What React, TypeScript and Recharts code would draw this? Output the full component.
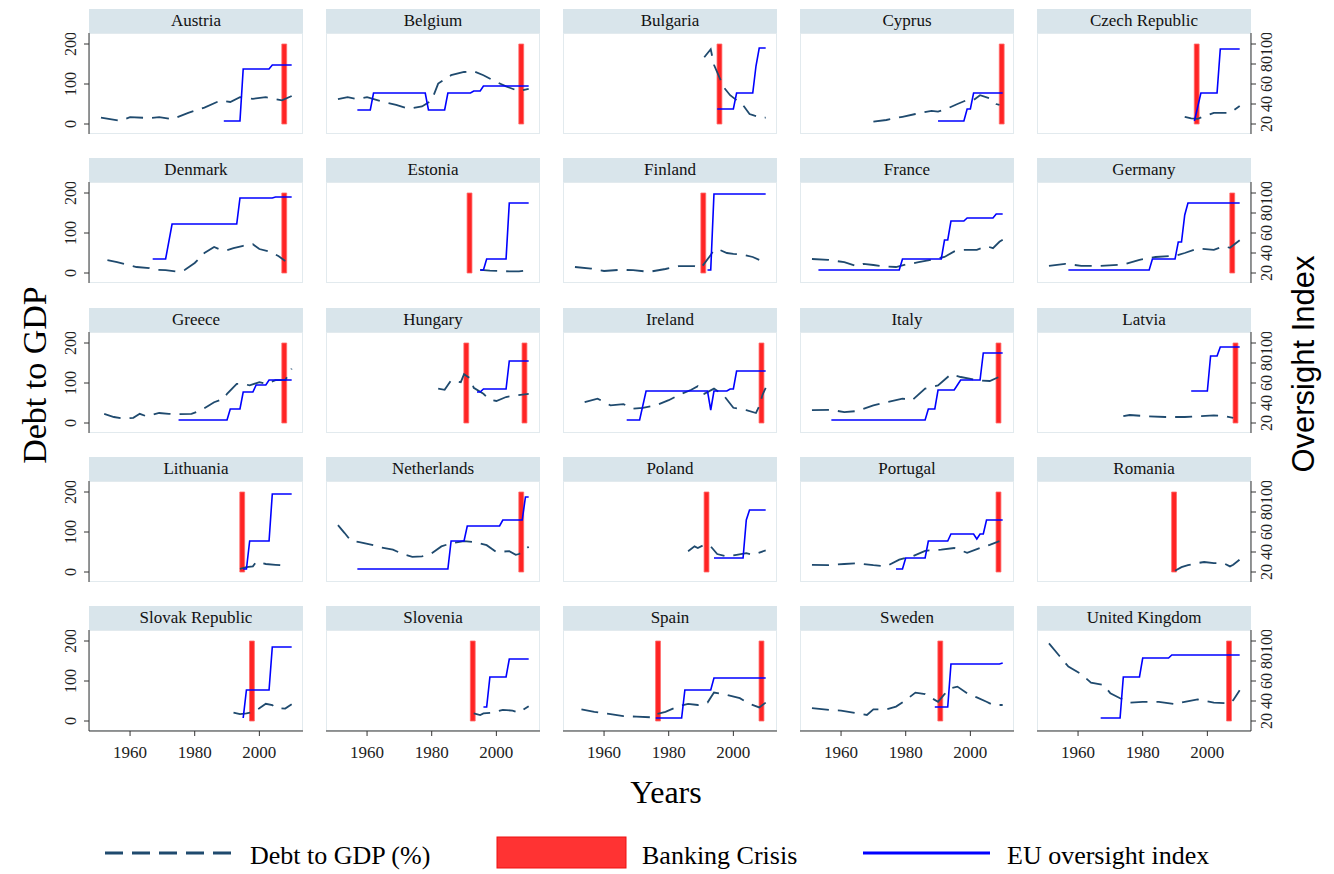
import React from 'react';
import { ComposedChart, Line, XAxis, YAxis, ReferenceArea } from 'recharts';

// ---------- data: [year, value] ----------
const austriaDebt = [[1951,16],[1957,8],[1960,17],[1966,15],[1969,17],[1973,12],[1978,28],[1983,41],[1988,59],[1991,55],[1994,67],[1998,63],[2002,67],[2007,59],[2010,70]];
const austriaOversight = [[1989,23],[1994,23],[1995,75],[2003,75],[2004,79],[2010,79]];
const austriaCrises = [2008];

const belgiumDebt = [[1951,62],[1954,67],[1957,62],[1960,67],[1965,55],[1969,48],[1973,38],[1977,44],[1980,59],[1982,101],[1986,122],[1990,130],[1993,132],[1996,122],[1999,109],[2003,94],[2007,82],[2010,88]];
const belgiumOversight = [[1957,34],[1961,34],[1962,51],[1978,51],[1979,34],[1984,34],[1985,51],[1992,51],[1993,53],[1995,53],[1996,58],[2010,58]];
const belgiumCrises = [2008];

const bulgariaDebt = [[1991,167],[1993,187],[1994,148],[1997,92],[1999,72],[2003,47],[2005,25],[2009,15],[2010,16]];
const bulgariaOversight = [[1995,35],[2000,35],[2001,51],[2006,51],[2007,78],[2008,96],[2010,96]];
const bulgariaCrises = [1996];

const cyprusDebt = [[1970,6],[1974,10],[1979,18],[1983,25],[1988,33],[1990,31],[1993,39],[1996,50],[1999,60],[2001,60],[2003,72],[2006,64],[2008,50],[2009,48]];
const cyprusOversight = [[1990,23],[1998,23],[1999,35],[2000,35],[2001,51],[2010,51]];
const cyprusCrises = [2010];

const czechDebt = [[1993,18],[1995,14],[1997,13],[2002,28],[2007,28],[2010,45]];
const czechOversight = [[1996,23],[1998,51],[2003,51],[2004,95],[2010,95]];
const czechCrises = [1997];

const denmarkDebt = [[1953,32],[1956,27],[1959,21],[1962,15],[1966,12],[1968,8],[1971,7],[1975,3],[1977,8],[1980,25],[1983,50],[1986,65],[1988,58],[1990,57],[1992,62],[1995,68],[1998,72],[2000,60],[2003,54],[2006,42],[2008,30]];
const denmarkOversight = [[1967,34],[1971,34],[1973,69],[1993,69],[1994,95],[2004,95],[2005,96],[2010,96]];
const denmarkCrises = [2008];

const estoniaDebt = [[1995,8],[1998,6],[2001,5],[2004,4],[2007,4],[2010,7]];
const estoniaOversight = [[1995,23],[1996,23],[1997,34],[2003,34],[2004,90],[2010,90]];
const estoniaCrises = [1992];

const finlandDebt = [[1951,15],[1956,11],[1960,5],[1965,8],[1969,7],[1974,3],[1979,10],[1983,17],[1988,17],[1990,13],[1993,45],[1994,58],[1996,57],[1998,50],[2000,48],[2003,46],[2006,40],[2008,33]];
const finlandOversight = [[1992,23],[1993,23],[1994,99],[2010,99]];
const finlandCrises = [1991];

const franceDebt = [[1951,35],[1956,33],[1961,27],[1965,17],[1967,23],[1970,20],[1973,17],[1977,15],[1980,21],[1984,27],[1989,35],[1992,40],[1995,54],[1998,58],[2002,58],[2005,67],[2007,62],[2009,78],[2010,83]];
const franceOversight = [[1953,23],[1978,23],[1979,34],[1991,34],[1992,53],[1993,53],[1994,72],[1998,72],[1999,75],[2007,75],[2008,79],[2010,79]];
const franceCrises: number[] = [];

const germanyDebt = [[1951,18],[1956,23],[1961,18],[1967,18],[1974,21],[1979,33],[1984,40],[1990,43],[1993,50],[1997,61],[2002,58],[2005,67],[2007,63],[2010,82]];
const germanyOversight = [[1957,23],[1982,23],[1983,34],[1990,34],[1991,51],[1992,51],[1993,78],[1994,90],[2010,90]];
const germanyCrises = [2008];

const greeceDebt = [[1952,23],[1955,15],[1958,11],[1961,13],[1963,23],[1965,17],[1966,19],[1969,25],[1972,23],[1975,22],[1979,23],[1982,32],[1984,42],[1986,52],[1989,61],[1990,73],[1993,98],[1995,98],[1997,94],[2000,102],[2002,98],[2005,107],[2008,107],[2010,136]];
const greeceOversight = [[1975,23],[1990,23],[1991,34],[1994,34],[1995,51],[1998,51],[1999,58],[2002,58],[2003,63],[2010,63]];
const greeceCrises = [2008];

const hungaryDebt = [[1982,86],[1984,83],[1986,107],[1989,102],[1990,122],[1992,111],[1993,88],[1996,73],[1998,58],[2000,55],[2003,65],[2006,69],[2010,73]];
const hungaryOversight = [[1994,51],[1995,51],[1996,54],[2003,54],[2004,82],[2010,82]];
const hungaryCrises = [1991, 2009];

const irelandDebt = [[1954,52],[1958,61],[1962,44],[1966,47],[1969,36],[1972,38],[1976,44],[1980,57],[1984,73],[1987,83],[1989,92],[1991,73],[1994,86],[1997,69],[2000,38],[2004,32],[2007,25],[2008,42],[2009,70],[2010,88]];
const irelandOversight = [[1967,23],[1971,23],[1973,52],[1992,52],[1993,33],[1994,52],[1998,52],[1999,54],[2000,54],[2001,72],[2010,72]];
const irelandCrises = [2009];

const italyDebt = [[1951,32],[1957,33],[1961,27],[1965,30],[1970,44],[1974,52],[1979,61],[1982,57],[1986,86],[1990,94],[1994,122],[1997,115],[2002,107],[2006,105],[2010,119]];
const italyOversight = [[1957,23],[1986,23],[1987,34],[1989,34],[1990,53],[1995,53],[1996,58],[1997,63],[2003,63],[2004,90],[2010,90]];
const italyCrises = [2009];

const latviaDebt = [[1974,17],[1976,20],[1981,17],[1987,15],[1993,15],[1997,17],[2002,19],[2005,18],[2008,13]];
const latviaOversight = [[1995,52],[2000,52],[2001,87],[2003,87],[2004,96],[2010,96]];
const latviaCrises = [2009];

const lithuaniaDebt = [[1994,8],[1996,12],[1998,14],[1999,25],[2002,20],[2005,18],[2008,16],[2009,20]];
const lithuaniaOversight = [[1995,23],[1996,23],[1997,51],[2003,51],[2004,98],[2010,98]];
const lithuaniaCrises = [1995];

const netherlandsDebt = [[1951,117],[1953,98],[1955,78],[1958,74],[1962,67],[1964,62],[1968,56],[1971,45],[1974,38],[1977,39],[1980,47],[1983,64],[1986,72],[1990,77],[1993,75],[1997,67],[2000,50],[2004,52],[2006,43],[2007,45],[2010,63]];
const netherlandsOversight = [[1957,23],[1985,23],[1986,51],[1990,51],[1991,66],[2001,66],[2002,72],[2008,72],[2009,95],[2010,95]];
const netherlandsCrises = [2008];

const polandDebt = [[1986,52],[1988,64],[1989,60],[1991,68],[1993,64],[1995,45],[1998,39],[2001,43],[2004,47],[2006,43],[2010,54]];
const polandOversight = [[1994,34],[2003,34],[2004,72],[2005,82],[2010,82]];
const polandCrises = [1992];

const portugalDebt = [[1951,18],[1956,17],[1961,20],[1965,22],[1970,17],[1974,14],[1978,31],[1982,39],[1986,53],[1991,56],[1995,60],[1999,48],[2003,60],[2006,68],[2009,77]];
const portugalOversight = [[1977,23],[1979,23],[1980,34],[1986,34],[1987,51],[1993,51],[1994,58],[2001,58],[2002,53],[2003,58],[2004,58],[2005,72],[2010,72]];
const portugalCrises = [2009];

const romaniaDebt = [[1990,3],[1992,12],[1994,17],[1996,21],[1999,25],[2002,22],[2005,22],[2007,14],[2008,18],[2010,31]];
const romaniaOversight: number[][] = [];
const romaniaCrises = [1990];

const slovakDebt = [[1992,21],[1994,17],[1996,19],[1998,22],[2000,32],[2002,43],[2004,40],[2005,33],[2008,31],[2010,42]];
const slovakOversight = [[1995,23],[1996,51],[2003,51],[2004,94],[2010,94]];
const slovakCrises = [1998];

const sloveniaDebt = [[1993,19],[1995,15],[1996,19],[1999,21],[2002,28],[2005,26],[2007,21],[2010,37]];
const sloveniaOversight = [[1996,34],[1997,34],[1998,64],[2003,64],[2004,82],[2010,82]];
const sloveniaCrises = [1993];

const spainDebt = [[1953,29],[1957,23],[1962,17],[1966,12],[1970,11],[1975,9],[1976,17],[1979,23],[1983,37],[1986,43],[1989,40],[1992,46],[1994,71],[1997,67],[2002,57],[2005,43],[2008,34],[2010,46]];
const spainOversight = [[1976,23],[1984,23],[1985,51],[1993,51],[1994,63],[2010,63]];
const spainCrises = [1977, 2009];

const swedenDebt = [[1951,32],[1957,27],[1960,26],[1965,19],[1968,15],[1970,29],[1974,29],[1977,36],[1980,52],[1983,71],[1986,67],[1990,48],[1992,67],[1994,82],[1996,86],[1999,69],[2002,59],[2005,48],[2007,40],[2010,40]];
const swedenOversight = [[1989,34],[1993,34],[1994,77],[2009,77],[2010,78]];
const swedenCrises = [1991];

const ukDebt = [[1951,194],[1954,165],[1957,136],[1961,117],[1964,96],[1968,90],[1970,69],[1973,57],[1976,46],[1980,48],[1985,48],[1990,42],[1993,48],[1997,54],[2002,46],[2007,44],[2008,52],[2010,77]];
const ukOversight = [[1967,23],[1973,23],[1974,64],[1979,64],[1980,83],[1988,83],[1989,86],[2010,86]];
const ukCrises = [2007];

const countryNames = ['Austria','Belgium','Bulgaria','Cyprus','Czech Republic','Denmark','Estonia','Finland','France','Germany','Greece','Hungary','Ireland','Italy','Latvia','Lithuania','Netherlands','Poland','Portugal','Romania','Slovak Republic','Slovenia','Spain','Sweden','United Kingdom'];
const debtSeries = [austriaDebt,belgiumDebt,bulgariaDebt,cyprusDebt,czechDebt,denmarkDebt,estoniaDebt,finlandDebt,franceDebt,germanyDebt,greeceDebt,hungaryDebt,irelandDebt,italyDebt,latviaDebt,lithuaniaDebt,netherlandsDebt,polandDebt,portugalDebt,romaniaDebt,slovakDebt,sloveniaDebt,spainDebt,swedenDebt,ukDebt];
const oversightSeries = [austriaOversight,belgiumOversight,bulgariaOversight,cyprusOversight,czechOversight,denmarkOversight,estoniaOversight,finlandOversight,franceOversight,germanyOversight,greeceOversight,hungaryOversight,irelandOversight,italyOversight,latviaOversight,lithuaniaOversight,netherlandsOversight,polandOversight,portugalOversight,romaniaOversight,slovakOversight,sloveniaOversight,spainOversight,swedenOversight,ukOversight];
const crisisYears = [austriaCrises,belgiumCrises,bulgariaCrises,cyprusCrises,czechCrises,denmarkCrises,estoniaCrises,finlandCrises,franceCrises,germanyCrises,greeceCrises,hungaryCrises,irelandCrises,italyCrises,latviaCrises,lithuaniaCrises,netherlandsCrises,polandCrises,portugalCrises,romaniaCrises,slovakCrises,sloveniaCrises,spainCrises,swedenCrises,ukCrises];

const xTicks = [1960, 1980, 2000];
const debtTicks = [0, 100, 200];
const oversightTicks = [20, 40, 60, 80, 100];

// ---------- layout / style ----------
const SERIF = '"Liberation Serif", "Times New Roman", Times, serif';
const SANS = '"Liberation Sans", Arial, Helvetica, sans-serif';
const COL_X = [89, 326, 563, 800, 1037];
const ROW_Y = [33, 182, 332, 481, 630];
const PW = 214;
const PH = 101;
const HEAD_H = 24;
const LW = 40;
const RW = 40;
const BH = 40;
const DEBT_COLOR = '#1f4a6e';
const OV_COLOR = '#0000ff';
const AXIS_COLOR = '#333333';

const toPts = (a: number[][]) => a.map(([year, v]) => ({ year, v }));

function Panel({ idx }: { idx: number }) {
  const r = Math.floor(idx / 5);
  const c = idx % 5;
  const isLeft = c === 0;
  const isRight = c === 4;
  const isBottom = r === 4;
  const px = COL_X[c];
  const py = ROW_Y[r];
  const w = PW + (isLeft ? LW : 0) + (isRight ? RW : 0);
  const h = PH + (isBottom ? BH : 0);
  const offX = isLeft ? LW : 0;
  const debt = toPts(debtSeries[idx]);
  const ov = toPts(oversightSeries[idx]);

  const LeftTick = (p: any) => {
    const cx = offX - 19;
    return (
      <text x={cx} y={p.y} transform={`rotate(-90 ${cx} ${p.y})`} textAnchor="middle" dominantBaseline="central" fontSize={16} fill="#222" fontFamily={SERIF}>{p.payload.value}</text>
    );
  };
  const RightTick = (p: any) => {
    const cx = offX + PW + 15;
    return (
      <text x={cx} y={p.y} transform={`rotate(-90 ${cx} ${p.y})`} textAnchor="middle" dominantBaseline="central" fontSize={16} fill="#222" fontFamily={SERIF}>{p.payload.value}</text>
    );
  };
  const BottomTick = (p: any) => (
    <text x={p.x} y={PH + 21} textAnchor="middle" dominantBaseline="central" fontSize={17} fill="#222" fontFamily={SERIF}>{p.payload.value}</text>
  );

  return (
    <>
      <div style={{ position: 'absolute', left: px, top: py - HEAD_H, width: PW, height: HEAD_H, background: '#d9e5eb', fontFamily: SERIF, fontSize: 17, lineHeight: `${HEAD_H}px`, textAlign: 'center', color: '#111' }}>
        {countryNames[idx]}
      </div>
      <div style={{ position: 'absolute', left: px, top: py, width: PW, height: PH, border: '1px solid #e2eaee', boxSizing: 'border-box' }} />
      <div style={{ position: 'absolute', left: px - offX, top: py }}>
        <ComposedChart width={w} height={h} margin={{ top: 0, right: 0, bottom: 0, left: 0 }}>
          <XAxis xAxisId={0} type="number" dataKey="year" domain={[1947.3, 2013.5]} ticks={xTicks} interval={0} allowDataOverflow hide={!isBottom} height={BH} tick={BottomTick} tickSize={5} axisLine={{ stroke: AXIS_COLOR }} tickLine={{ stroke: AXIS_COLOR }} />
          <YAxis yAxisId="d" type="number" domain={[-25, 227.5]} ticks={debtTicks} interval={0} allowDataOverflow hide={!isLeft} width={LW} tick={LeftTick} tickSize={5} axisLine={{ stroke: AXIS_COLOR }} tickLine={{ stroke: AXIS_COLOR }} />
          <YAxis yAxisId="o" type="number" orientation="right" domain={[10, 111]} ticks={oversightTicks} interval={0} allowDataOverflow hide={!isRight} width={RW} tick={RightTick} tickSize={5} axisLine={{ stroke: AXIS_COLOR }} tickLine={{ stroke: AXIS_COLOR }} />
          {crisisYears[idx].map((yr) => (
            <ReferenceArea key={yr} xAxisId={0} yAxisId="d" x1={yr - 1.05} x2={yr + 0.45} y1={0} y2={200} fill="#ff2424" fillOpacity={1} stroke="#ff6b6b" strokeWidth={0.8} ifOverflow="visible" />
          ))}
          <Line xAxisId={0} yAxisId="d" data={debt} dataKey="v" type="linear" stroke={DEBT_COLOR} strokeWidth={1.8} strokeDasharray="17 9" dot={false} activeDot={false} isAnimationActive={false} />
          {ov.length > 0 && (
            <Line xAxisId={0} yAxisId="o" data={ov} dataKey="v" type="linear" stroke={OV_COLOR} strokeWidth={1.6} dot={false} activeDot={false} isAnimationActive={false} />
          )}
        </ComposedChart>
      </div>
    </>
  );
}

export default function App() {
  return (
    <div style={{ position: 'absolute', left: 0, top: 0, width: 1334, height: 874, background: '#ffffff', overflow: 'hidden' }}>
      {countryNames.map((_, i) => <Panel key={i} idx={i} />)}
      <svg width={1334} height={874} style={{ position: 'absolute', left: 0, top: 0, pointerEvents: 'none' }}>
        <text x={34} y={375} transform="rotate(-90 34 375)" textAnchor="middle" dominantBaseline="central" fontSize={34} fontFamily={SERIF} fill="#000">Debt to GDP</text>
        <text x={1303} y={364} transform="rotate(-90 1303 364)" textAnchor="middle" dominantBaseline="central" fontSize={31} fontFamily={SANS} fill="#000">Oversight Index</text>
        <text x={666} y={792} textAnchor="middle" dominantBaseline="central" fontSize={32} fontFamily={SERIF} fill="#000">Years</text>
        <line x1={105} x2={233} y1={853} y2={853} stroke={DEBT_COLOR} strokeWidth={3} strokeDasharray="18 9" />
        <text x={250} y={855} dominantBaseline="central" fontSize={26} fontFamily={SERIF} fill="#000">Debt to GDP (%)</text>
        <rect x={497} y={837} width={129} height={31} fill="#ff3333" stroke="#ee1111" strokeWidth={1} />
        <text x={642} y={855} dominantBaseline="central" fontSize={26} fontFamily={SERIF} fill="#000">Banking Crisis</text>
        <line x1={863} x2={990} y1={853} y2={853} stroke={OV_COLOR} strokeWidth={3} />
        <text x={1007} y={855} dominantBaseline="central" fontSize={26} fontFamily={SERIF} fill="#000">EU oversight index</text>
      </svg>
    </div>
  );
}
